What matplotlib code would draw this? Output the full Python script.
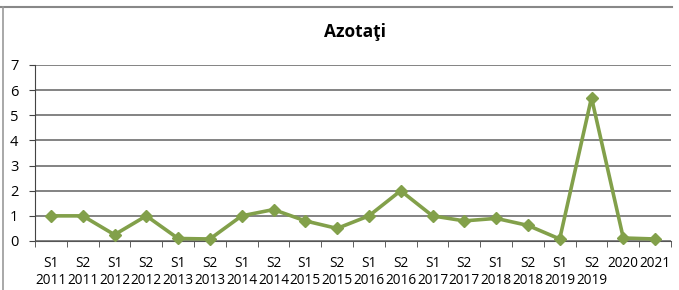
import matplotlib
matplotlib.use("Agg")
import matplotlib.pyplot as plt
from matplotlib.lines import Line2D

categories = ["S1\n2011", "S2\n2011", "S1\n2012", "S2\n2012", "S1\n2013", "S2\n2013",
              "S1\n2014", "S2\n2014", "S1\n2015", "S2\n2015", "S1\n2016", "S2\n2016",
              "S1\n2017", "S2\n2017", "S1\n2018", "S2\n2018", "S1\n2019", "S2\n2019",
              "2020", "2021"]
values = [1.0, 1.0, 0.25, 1.0, 0.1, 0.08, 1.0, 1.25, 0.8, 0.5, 1.0, 2.0,
          1.0, 0.8, 0.9, 0.62, 0.08, 5.7, 0.12, 0.08]
yticks = [0, 1, 2, 3, 4, 5, 6, 7]
title = "Azotaţi"

plt.rcParams['font.family'] = ['Open Sans', 'DejaVu Sans']

fig = plt.figure(figsize=(6.79, 2.90), dpi=100)
ax = fig.add_axes([35/679, 1-241/290, (671-35)/679, (241-65)/290])

x = list(range(len(categories)))
ax.plot(x, values, color='#82a04a', lw=2.6, marker='D', ms=6,
        markerfacecolor='#82a04a', markeredgecolor='#82a04a', zorder=3, clip_on=False)

ax.set_xlim(-0.5, len(categories) - 0.5)
ax.set_ylim(0, 7)
ax.set_yticks(yticks)
ax.set_yticklabels([str(v) for v in yticks], fontsize=10.5)
ax.set_xticks(x)
ax.set_xticklabels(categories, fontsize=9.8, linespacing=1.15)
ax.set_xticks([i - 0.5 for i in range(len(categories) + 1)], minor=True)
ax.tick_params(axis='x', which='major', length=0, pad=11)
ax.tick_params(axis='x', which='minor', length=4, direction='out', color='#444444')
ax.tick_params(axis='y', length=4, direction='out', color='#444444', pad=8)

ax.grid(axis='y', color='#6e6e6e', lw=1.2)
ax.set_axisbelow(True)
for s in ['top', 'right']:
    ax.spines[s].set_visible(False)
ax.spines['left'].set_color('#444444')
ax.spines['bottom'].set_color('#555555')

fig.text(355/679, 1-32/290, title, ha='center', va='center', fontsize=12.5, fontweight='bold')

fig.add_artist(Line2D([0, 672/679], [1-7/290, 1-7/290], color='#888888', lw=1.5,
                      transform=fig.transFigure))
fig.add_artist(Line2D([3/679, 3/679], [0, 1-7/290], color='#999999', lw=1.2,
                      transform=fig.transFigure))

fig.savefig("out.png", dpi=100)
